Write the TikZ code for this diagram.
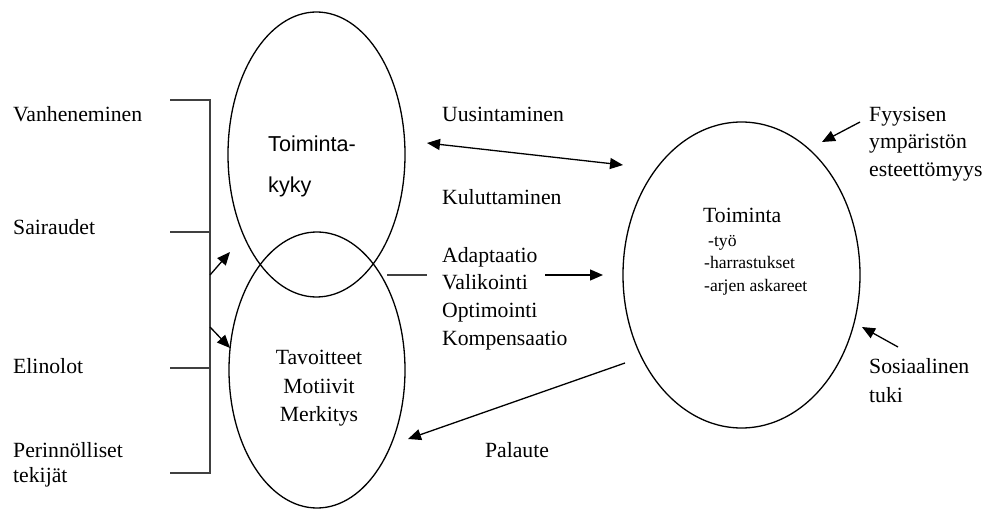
\documentclass[tikz,border=0pt]{standalone}
\usepackage{fontspec}
\setmainfont{Liberation Serif}
\newfontfamily\arialf{Liberation Sans}
\usetikzlibrary{shapes.geometric,arrows.meta}
\begin{document}
\begin{tikzpicture}[x=1pt,y=-1pt,
  lbl/.style={anchor=base west, inner sep=0pt, font=\fontsize{21.7}{27}\selectfont},
  clbl/.style={lbl, anchor=base},
  small/.style={lbl, font=\fontsize{17.6}{22}\selectfont},
  sans/.style={lbl, font=\arialf\fontsize{21.6}{26}\selectfont},
  ell/.style={draw, ellipse, inner sep=0pt, line width=1.3pt},
  ln/.style={line width=1.3pt, draw=black!75},
  tip/.style={},
  arr/.style={line width=1.3pt, -{Triangle[length=13pt,width=11pt]}},
  darr/.style={line width=1.3pt, {Triangle[length=13pt,width=11pt]}-{Triangle[length=13pt,width=11pt]}},
]
\useasboundingbox (0,0) rectangle (983,513);
\fill[white] (0,0) rectangle (983,513);

% ellipses
\node[ell, minimum width=177pt, minimum height=285pt] (tk) at (316.5,154.5) {};
\node[ell, minimum width=176pt, minimum height=276pt] (tav) at (317,370) {};
\node[ell, minimum width=237pt, minimum height=306pt] (toim) at (741.5,275) {};

% left labels
\node[lbl] (vanh) at (13,122) {Vanheneminen};
\node[lbl] (sair) at (13,235) {Sairaudet};
\node[lbl] (elin) at (13,373) {Elinolot};
\node[lbl] (peri) at (13,457) {Perinnölliset};
\node[lbl] (teki) at (13,482) {tekijät};

% bracket
\coordinate (b1) at (170,100); \coordinate (b1r) at (210,100);
\coordinate (b2) at (170,232); \coordinate (b2r) at (210,232);
\coordinate (b3) at (170,368); \coordinate (b3r) at (210,368);
\coordinate (b4) at (170,473); \coordinate (b4r) at (210,473);
\draw[ln] (b1) -- (b1r) -- (b4r) -- (b4);
\draw[ln] (b2) -- (b2r);
\draw[ln] (b3) -- (b3r);
\coordinate (a1s) at (210,275); \coordinate (a1e) at (230,252);
\coordinate (a2s) at (210,327); \coordinate (a2e) at (230,348);
\draw[arr] (a1s) -- (a1e);
\draw[arr] (a2s) -- (a2e);

% texts in left ellipses
\node[sans] (tk1) at (268,152) {Toiminta-};
\node[sans] (tk2) at (268,193) {kyky};
\node[clbl] (tav1) at (319,364) {Tavoitteet};
\node[clbl] (tav2) at (319,393) {Motiivit};
\node[clbl] (tav3) at (319,421) {Merkitys};

% middle texts
\node[lbl] (uus) at (442,122) {Uusintaminen};
\node[lbl] (kul) at (442,205) {Kuluttaminen};
\node[lbl] (ada) at (442,262) {Adaptaatio};
\node[lbl] (val) at (442,290) {Valikointi};
\node[lbl] (opt) at (442,317) {Optimointi};
\node[lbl] (kom) at (442,345) {Kompensaatio};
\node[clbl] (pal) at (517,457) {Palaute};

% middle connectors
\coordinate (d1) at (427,143); \coordinate (d2) at (623,165);
\draw[darr] (d1) -- (d2);
\coordinate (m1) at (387,275); \coordinate (m2) at (427,275);
\draw[ln] (m1) -- (m2);
\coordinate (m3) at (545,275); \coordinate (m4) at (603,275);
\draw[arr] (m3) -- (m4);
\coordinate (p1) at (625,363); \coordinate (p2) at (408,439);
\draw[arr] (p1) -- (p2);

% right ellipse text
\node[lbl] (to) at (703,223) {Toiminta};
\node[small] (ty) at (708,247) {-työ};
\node[small] (ha) at (704,269) {-harrastukset};
\node[small] (ar) at (704,291) {-arjen askareet};

% right labels
\node[lbl] (fy1) at (869,122) {Fyysisen};
\node[lbl] (fy2) at (869,149) {ympäristön};
\node[lbl] (fy3) at (869,177) {esteettömyys};
\node[lbl] (so1) at (869,373) {Sosiaalinen};
\node[lbl] (so2) at (869,402) {tuki};
\coordinate (f1) at (860,122); \coordinate (f2) at (822,142);
\draw[arr] (f1) -- (f2);
\coordinate (s1) at (898,347); \coordinate (s2) at (862,327);
\draw[arr] (s1) -- (s2);
\end{tikzpicture}
\end{document}
